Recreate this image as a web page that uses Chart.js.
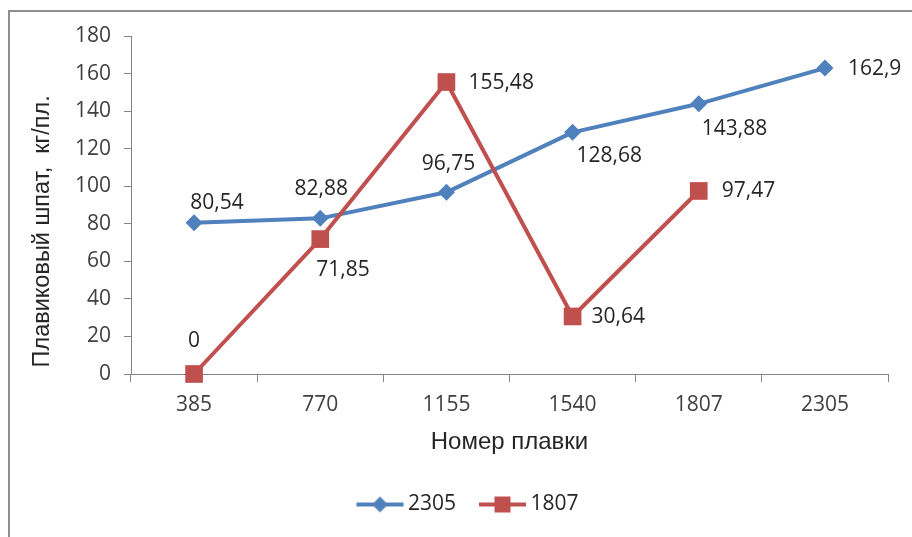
<!DOCTYPE html>
<html lang="ru">
<head>
<meta charset="utf-8">
<title>Плавиковый шпат</title>
<script src="https://cdn.jsdelivr.net/npm/chart.js@4/dist/chart.umd.min.js"></script>
<style>
  html, body { margin: 0; padding: 0; background: #fff; }
  #wrap { position: relative; width: 912px; height: 537px; overflow: hidden; }
  /* рамка области диаграммы (видны только левый и верхний края) */
  #frame { position: absolute; left: 8px; top: 10px; width: 1000px; height: 600px;
           border-left: 2px solid #8e8e8e; border-top: 2px solid #8e8e8e; }
  #chart { position: absolute; left: 0; top: 0; }
</style>
</head>
<body>
<div id="wrap">
  <div id="frame"></div>
  <canvas id="chart" width="912" height="537"></canvas>
</div>
<script>
// данные с диаграммы
const categories = ['385', '770', '1155', '1540', '1807', '2305'];
const seriesNames = ['2305', '1807'];
const values2305 = [80.54, 82.88, 96.75, 128.68, 143.88, 162.9];
const values1807 = [0, 71.85, 155.48, 30.64, 97.47, null];
const yTicks = [0, 20, 40, 60, 80, 100, 120, 140, 160, 180];

const BLUE = '#4F81BD';
const RED = '#C0504D';
const FONT = '"Open Sans", "DejaVu Sans", sans-serif';
const TITLE_FONT = '"Liberation Sans", Arial, sans-serif';

// смещение подписей относительно точек: [dx, dy, выравнивание]
const labelPlace = [
  [[23, -20, 'center'], [1, -29, 'center'], [2, -28, 'center'], [4, 24, 'left'], [3, 25, 'left'], [23, 1, 'left']],
  [[0, -33, 'center'], [-4, 31, 'left'], [22, 1, 'left'], [19, 1, 'left'], [23, 0, 'left'], null]
];

// значок легенды: линия с маркером, как в Excel
function legendIcon(color, shape) {
  const c = document.createElement('canvas');
  c.width = 120; c.height = 24;
  const g = c.getContext('2d');
  const x0 = 46, x1 = 93, cy = 12, mx = (x0 + x1) / 2;
  g.strokeStyle = color; g.lineWidth = 4; g.lineCap = 'butt';
  g.beginPath(); g.moveTo(x0, cy); g.lineTo(x1, cy); g.stroke();
  g.fillStyle = color;
  if (shape === 'diamond') {
    g.beginPath(); g.moveTo(mx, cy - 8); g.lineTo(mx + 8, cy); g.lineTo(mx, cy + 8); g.lineTo(mx - 8, cy); g.closePath(); g.fill();
  } else {
    g.fillRect(mx - 8, cy - 8, 16, 16);
  }
  return c;
}
const icons = [legendIcon(BLUE, 'diamond'), legendIcon(RED, 'square')];

// свой плагин для подписей значений
const valueLabels = {
  id: 'valueLabels',
  afterDatasetsDraw(chart) {
    const ctx = chart.ctx;
    ctx.save();
    ctx.font = '21px ' + FONT;
    ctx.fillStyle = '#262626';
    ctx.textBaseline = 'middle';
    chart.data.datasets.forEach((ds, di) => {
      const meta = chart.getDatasetMeta(di);
      meta.data.forEach((pt, i) => {
        const v = ds.data[i];
        const place = labelPlace[di][i];
        if (v === null || !place) return;
        ctx.textAlign = place[2];
        ctx.fillText(String(v).replace('.', ','), pt.x + place[0], pt.y + place[1]);
      });
    });
    ctx.restore();
  }
};

const ctx = document.getElementById('chart').getContext('2d');
new Chart(ctx, {
  type: 'line',
  data: {
    labels: categories,
    datasets: [
      {
        label: seriesNames[0],
        data: values2305,
        borderColor: BLUE,
        backgroundColor: BLUE,
        borderWidth: 4,
        pointStyle: 'rectRot',
        pointRadius: 8.5,
        pointHoverRadius: 8.5,
        pointBorderWidth: 0,
        borderJoinStyle: 'round',
        tension: 0,
        clip: false,
        order: 1
      },
      {
        label: seriesNames[1],
        data: values1807,
        borderColor: RED,
        backgroundColor: RED,
        borderWidth: 4,
        pointStyle: 'rect',
        pointRadius: 12.5,
        pointHoverRadius: 12.5,
        pointBorderWidth: 0,
        borderJoinStyle: 'round',
        tension: 0,
        clip: false,
        order: 0
      }
    ]
  },
  options: {
    responsive: false,
    animation: false,
    events: [],
    layout: { padding: { left: 34, right: 24, top: 36, bottom: 12 } },
    scales: {
      x: {
        offset: true,
        grid: { offset: true, drawOnChartArea: false, drawTicks: true, tickLength: 8, tickColor: '#868686' },
        border: { color: '#868686', width: 1 },
        ticks: { color: '#404040', font: { family: FONT, size: 21 }, padding: 10, maxRotation: 0 },
        title: { display: true, text: 'Номер плавки', color: '#262626', font: { family: TITLE_FONT, size: 24 }, padding: { top: 0, bottom: 27.6 } },
        afterFit(scale) { scale.height = 110; }
      },
      y: {
        min: 0,
        max: 180,
        afterBuildTicks(scale) { scale.ticks = yTicks.map(v => ({ value: v })); },
        grid: { drawOnChartArea: false, drawTicks: true, tickLength: 7, tickColor: '#868686' },
        border: { color: '#868686', width: 1 },
        ticks: { color: '#404040', font: { family: FONT, size: 21 }, padding: 13 },
        // подпись оси начинается почти от нуля, как в оригинале
        title: { display: true, align: 'start', text: ' Плавиковый шпат,  кг/пл.', color: '#262626', font: { family: TITLE_FONT, size: 23.5 }, padding: { top: -6, bottom: 0 } },
        afterFit(scale) { scale.width = 97; }
      }
    },
    plugins: {
      tooltip: { enabled: false },
      legend: {
        position: 'bottom',
        labels: {
          usePointStyle: true,
          pointStyleWidth: 54,
          padding: 10,
          color: '#262626',
          font: { family: FONT, size: 21 },
          generateLabels(chart) {
            return chart.data.datasets.map((ds, i) => ({
              text: ds.label,
              pointStyle: icons[i],
              fillStyle: ds.borderColor,
              strokeStyle: ds.borderColor,
              lineWidth: 0,
              fontColor: '#262626',
              hidden: false,
              datasetIndex: i
            }));
          }
        }
      }
    }
  },
  plugins: [valueLabels]
});
</script>
</body>
</html>
